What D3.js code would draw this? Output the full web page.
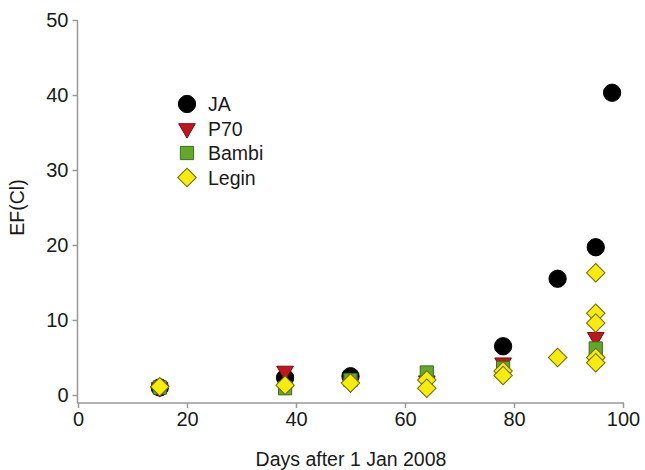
<!DOCTYPE html>
<html>
<head>
<meta charset="utf-8">
<script src="https://cdn.jsdelivr.net/npm/d3@7/dist/d3.min.js"></script>
<style>
  html, body { margin: 0; padding: 0; background: #fff; }
  svg { display: block; font-family: "Liberation Sans", Arial, sans-serif; }
</style>
</head>
<body>
<svg id="chart" width="645" height="470"></svg>
<script>
// ---- data ----
const xTicks = [0, 20, 40, 60, 80, 100];
const yTicks = [0, 10, 20, 30, 40, 50];
const seriesNames = ["JA", "P70", "Bambi", "Legin"];

const jaDays   = [15, 38, 50, 78, 88, 95, 98];
const jaEF     = [1.0, 2.3, 2.5, 6.5, 15.5, 19.7, 40.3];

const p70Days  = [15, 38, 50, 64, 78, 95];
const p70EF    = [1.0, 3.2, 1.6, 1.9, 4.3, 7.7];

const bambiDays = [15, 38, 50, 64, 78, 95];
const bambiEF   = [1.0, 0.9, 2.0, 3.0, 3.6, 6.2];

const leginDays = [15, 38, 50, 64, 64, 78, 78, 88, 95, 95, 95, 95, 95];
const leginEF   = [1.1, 1.3, 1.6, 2.0, 0.9, 3.2, 2.6, 5.0, 16.3, 10.9, 9.6, 5.0, 4.3];

// ---- chart ----
const svg = d3.select("#chart");
const x = d3.scaleLinear().domain([0, 100]).range([78, 623]);
const y = d3.scaleLinear().domain([0, 50]).range([395, 20]);
const axisY = 403;
const axisColor = "#999";
const textColor = "#1a1a1a";

// x axis
const gx = svg.append("g").attr("transform", `translate(0,${axisY})`)
  .call(d3.axisBottom(x).tickValues(xTicks).tickSize(5).tickPadding(4).tickSizeOuter(0));
gx.select(".domain").remove();
gx.selectAll(".tick line").attr("stroke", axisColor).attr("stroke-width", 1.5);
gx.selectAll(".tick text").attr("fill", textColor).style("font-size", "20px");
svg.append("line").attr("x1", x(0) - 1).attr("x2", x(100) + 1)
  .attr("y1", axisY).attr("y2", axisY).attr("stroke", axisColor).attr("stroke-width", 1.5);

// y axis
const gy = svg.append("g").attr("transform", `translate(${x(0) - 0.5},0)`)
  .call(d3.axisLeft(y).tickValues(yTicks).tickSize(5).tickPadding(4).tickSizeOuter(0));
gy.select(".domain").remove();
gy.selectAll(".tick line").attr("stroke", axisColor).attr("stroke-width", 1.5);
gy.selectAll(".tick text").attr("fill", textColor).style("font-size", "20px");
svg.append("line").attr("x1", x(0) - 0.5).attr("x2", x(0) - 0.5)
  .attr("y1", y(50)).attr("y2", axisY).attr("stroke", axisColor).attr("stroke-width", 1.5);

// axis titles
svg.append("text").attr("x", 351).attr("y", 466).attr("text-anchor", "middle")
  .attr("fill", textColor).style("font-size", "19.5px").text("Days after 1 Jan 2008");
svg.append("text").attr("transform", `translate(24,${y(25)}) rotate(-90)`)
  .attr("text-anchor", "middle").attr("fill", textColor).style("font-size", "19.5px").text("EF(Cl)");

// markers
const styles = {
  JA:    { type: d3.symbolCircle,   size: 235, fill: "#000000", stroke: "#000000", rot: 0 },
  P70:   { type: d3.symbolTriangle, size: 120, fill: "#c0161e", stroke: "#7a0d10", rot: 180 },
  Bambi: { type: d3.symbolSquare,   size: 175, fill: "#62a82c", stroke: "#3d6e1a", rot: 0 },
  Legin: { type: d3.symbolSquare,   size: 170, fill: "#f8ec0c", stroke: "#6f6a0c", rot: 45 }
};

const series = [
  { name: "JA", days: jaDays, ef: jaEF },
  { name: "P70", days: p70Days, ef: p70EF },
  { name: "Bambi", days: bambiDays, ef: bambiEF },
  { name: "Legin", days: leginDays, ef: leginEF }
];

series.forEach(s => {
  const st = styles[s.name];
  const pts = s.days.map((d, i) => ({ d, v: s.ef[i] }));
  svg.append("g").selectAll("path").data(pts).join("path")
    .attr("d", d3.symbol().type(st.type).size(st.size))
    .attr("transform", p => `translate(${x(p.d)},${y(p.v)}) rotate(${st.rot})`)
    .attr("fill", st.fill).attr("stroke", st.stroke).attr("stroke-width", 1);
});

// legend
const legend = svg.append("g");
seriesNames.forEach((n, i) => {
  const st = styles[n];
  const ly = 104 + i * 24.5;
  legend.append("path")
    .attr("d", d3.symbol().type(st.type).size(st.size))
    .attr("transform", `translate(187,${ly}) rotate(${st.rot})`)
    .attr("fill", st.fill).attr("stroke", st.stroke).attr("stroke-width", 1);
  legend.append("text").attr("x", 208).attr("y", ly).attr("dy", "0.36em")
    .attr("fill", textColor).style("font-size", "19.5px").text(n);
});
</script>
</body>
</html>
